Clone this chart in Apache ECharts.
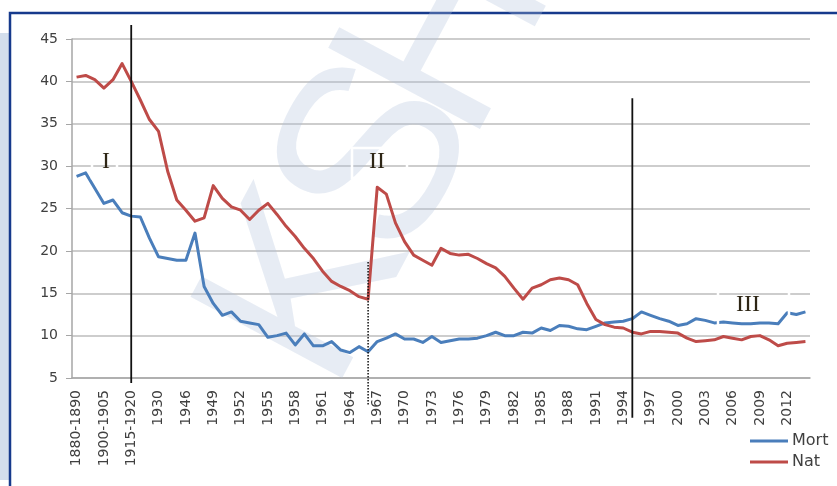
<!DOCTYPE html>
<html>
<head>
<meta charset="utf-8">
<script src="https://cdn.jsdelivr.net/npm/echarts@6/dist/echarts.min.js"></script>
<style>
  html, body { margin: 0; padding: 0; background: #fff; }
  #chart { width: 837px; height: 486px; }
</style>
</head>
<body>
<div id="chart"></div>
<script>
var categories = ['1880-1890', '1890-1895', '1895-1900', '1900-1905', '1905-1910', '1910-1915', '1915-1920',
    '1920-1925', '1925-1930', '1930', '1938', '1941'];
for (var y = 1946; y <= 2014; y++) categories.push(String(y));

var mort = [28.8, 29.2, 27.4, 25.6, 26.0, 24.5, 24.1, 24.0, 21.5, 19.3,
    19.1, 18.9, 18.9, 22.1, 15.8, 13.8, 12.4, 12.8, 11.7, 11.5,
    11.3, 9.8, 10.0, 10.3, 8.9, 10.2, 8.8, 8.8, 9.3, 8.3,
    8.0, 8.7, 8.1, 9.3, 9.7, 10.2, 9.6, 9.6, 9.2, 9.9,
    9.2, 9.4, 9.6, 9.6, 9.7, 10.0, 10.4, 10.0, 10.0, 10.4,
    10.3, 10.9, 10.6, 11.2, 11.1, 10.8, 10.7, 11.1, 11.5, 11.6,
    11.7, 12.0, 12.8, 12.4, 12.0, 11.7, 11.2, 11.4, 12.0, 11.8,
    11.5, 11.6, 11.5, 11.4, 11.4, 11.5, 11.5, 11.4, 12.7, 12.5, 12.8];

var nat = [40.5, 40.7, 40.2, 39.2, 40.2, 42.1, 40.0, 37.8, 35.5, 34.1,
    29.4, 26.0, 24.8, 23.5, 23.9, 27.7, 26.2, 25.2, 24.8, 23.7,
    24.8, 25.6, 24.3, 22.9, 21.7, 20.3, 19.1, 17.6, 16.4, 15.8,
    15.3, 14.6, 14.3, 27.5, 26.7, 23.3, 21.1, 19.5, 18.9, 18.3,
    20.3, 19.7, 19.5, 19.6, 19.1, 18.5, 18.0, 17.0, 15.6, 14.3,
    15.6, 16.0, 16.6, 16.8, 16.6, 16.0, 13.8, 11.9, 11.3, 11.0,
    10.9, 10.4, 10.2, 10.5, 10.5, 10.4, 10.3, 9.7, 9.3, 9.4,
    9.5, 9.9, 9.7, 9.5, 9.9, 10.0, 9.5, 8.8, 9.1, 9.2, 9.3];

// period boundaries: category index, top value, bottom value
var periodIdx = [6, 32, 61];
var periodTop = [46.65, 18.7, 38.0];
var periodBottom = [4.4, 1.7, 0.3];
var periodNames = ['I', 'II', 'III'];

var yMin = 5, yMax = 45, yStep = 5;

var myChart = echarts.init(document.getElementById('chart'));

var series = [
    {
        name: 'Mort', type: 'line', data: mort, symbol: 'none', z: 3,
        lineStyle: { color: '#4a7ebb', width: 3, join: 'round' },
        itemStyle: { color: '#4a7ebb' }
    },
    {
        name: 'Nat', type: 'line', data: nat, symbol: 'none', z: 4,
        lineStyle: { color: '#be4b48', width: 3, join: 'round' },
        itemStyle: { color: '#be4b48' }
    }
];

for (var i = 0; i < periodIdx.length; i++) {
    series.push({
        type: 'line',
        silent: true,
        clip: false,
        symbol: 'none',
        z: 5,
        lineStyle: { color: '#111', width: i === 1 ? 1.5 : 1.8, type: i === 1 ? 'dotted' : 'solid' },
        data: [[periodIdx[i], periodTop[i]], [periodIdx[i], periodBottom[i]]]
    });
}

// watermark letters
var wm = [['K', 311, 290], ['S', 382, 160], ['H', 452, 35]];
var graphics = [
    { type: 'rect', z: 0, shape: { x: 0, y: 33, width: 9, height: 447 }, style: { fill: '#d3deec' } },
    { type: 'rect', z: 0, shape: { x: 10, y: 13, width: 900, height: 600 }, style: { fill: null, stroke: '#163a8c', lineWidth: 2.5 } }
];
wm.forEach(function (w) {
    graphics.push({
        type: 'text', z: 1, x: w[1], y: w[2], rotation: 1.08,
        style: {
            text: w[0], fontFamily: 'Liberation Sans', fontSize: 250,
            fill: 'rgba(175,192,218,0.3)', align: 'center', verticalAlign: 'middle'
        }
    });
});
graphics.push(
    { type: 'rect', z: 20, shape: { x: 92, y: 148, width: 25, height: 30 }, style: { fill: null, stroke: '#fff', lineWidth: 2.5 } },
    { type: 'rect', z: 20, shape: { x: 352, y: 148, width: 55, height: 30 }, style: { fill: null, stroke: '#fff', lineWidth: 2.5 } },
    { type: 'rect', z: 20, shape: { x: 718, y: 286, width: 71, height: 44 }, style: { fill: null, stroke: '#fff', lineWidth: 2.5 } },
    { type: 'text', z: 21, x: 106, y: 162, style: { text: periodNames[0], fontFamily: 'Liberation Serif', fontSize: 24, fill: '#2e2616', align: 'center', verticalAlign: 'middle' } },
    { type: 'text', z: 21, x: 377, y: 162, style: { text: periodNames[1], fontFamily: 'Liberation Serif', fontSize: 24, fill: '#2e2616', align: 'center', verticalAlign: 'middle' } },
    { type: 'text', z: 21, x: 748, y: 305, style: { text: periodNames[2], fontFamily: 'Liberation Serif', fontSize: 24, fill: '#2e2616', align: 'center', verticalAlign: 'middle' } }
);

var option = {
    animation: false,
    backgroundColor: '#fff',
    grid: { left: 72, right: 27, top: 39, bottom: 108 },
    legend: {
        data: ['Mort', 'Nat'],
        orient: 'vertical',
        left: 745,
        top: 427,
        icon: 'rect',
        itemWidth: 38,
        itemHeight: 3,
        itemGap: 3,
        textStyle: { fontFamily: 'DejaVu Sans', fontSize: 16, color: '#404040', lineHeight: 18, padding: [0, 0, 0, -1] }
    },
    xAxis: {
        type: 'category',
        data: categories,
        axisLine: { lineStyle: { color: '#a6a6a6', width: 1.5 } },
        axisTick: { interval: 0, length: 5, lineStyle: { color: '#a6a6a6' } },
        axisLabel: {
            interval: 2, rotate: 90, margin: 12,
            fontFamily: 'DejaVu Sans', fontSize: 14, color: '#404040'
        }
    },
    yAxis: {
        type: 'value',
        min: yMin, max: yMax, interval: yStep,
        axisLine: { show: true, lineStyle: { color: '#a6a6a6', width: 1.5 } },
        axisTick: { show: true, length: 6, lineStyle: { color: '#a6a6a6' } },
        axisLabel: { margin: 14, fontFamily: 'DejaVu Sans', fontSize: 14, color: '#404040' },
        splitLine: { lineStyle: { color: '#bdbdbd', width: 1.5 } }
    },
    graphic: graphics,
    series: series
};

myChart.setOption(option);
</script>
</body>
</html>
